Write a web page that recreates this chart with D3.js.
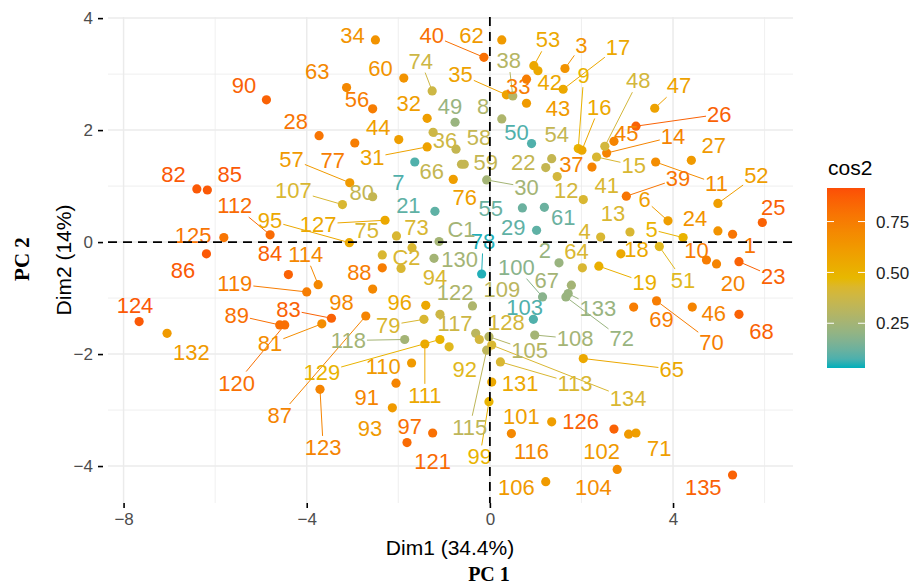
<!DOCTYPE html>
<html>
<head>
<meta charset="utf-8">
<script src="https://d3js.org/d3.v7.min.js"></script>
<style>
  body { margin: 0; background: #fff; }
  svg { display: block; font-family: "Liberation Sans", Arial, sans-serif; }
</style>
</head>
<body>
<svg></svg>
<script>
// individuals on the first two PCA dimensions, coloured by cos2

const ids = [
  "1","2","3","4","5","6","7","8","9","10","11","12","13","14","15","16","17","18","19","20",
  "21","22","23","24","25","26","27","28","29","30","31","32","33","34","35","36","37","38","39","40",
  "41","42","43","44","45","46","47","48","49","50","51","52","53","54","55","56","57","58","59","60",
  "61","62","63","64","65","66","67","68","69","70","71","72","73","74","75","76","77","78","79","80",
  "81","82","83","84","85","86","87","88","89","90","91","92","93","94","95","96","97","98","99","100",
  "101","102","103","104","105","106","107","108","109","110","111","112","113","114","115","116","117","118","119","120",
  "121","122","123","124","125","126","127","128","129","130","131","132","133","134","135","C1","C2"]

const dim1 = [
  5.30, 1.51, 1.64, 2.42, 4.22, 3.89, -1.64, 0.26, 1.93, 4.73, 3.62, 1.47, 3.06, 2.55, 2.33, 2.01, 1.60, 2.86, 2.38, 4.95,
  -1.20, 1.22, 5.44, 4.98, 5.95, 3.19, 4.40, -3.73, 1.02, -0.07, -1.37, -1.37, 0.80, -2.50, 0.36, -1.24, 2.23, 0.50, 2.98, -0.13,
  2.04, 1.05, 0.80, -1.99, 2.71, 4.42, 3.60, 2.51, -0.76, 0.91, 3.70, 4.98, 0.96, 1.35, 0.71, -2.56, -3.06, -0.74, -0.56, -1.88,
  1.19, 0.26, -3.13, 2.02, 2.04, -0.62, 1.78, 5.44, 3.14, 3.64, 3.19, 1.66, -1.70, -1.26, -2.04, -0.80, -2.95, -0.18, -1.44, -2.56,
  -3.67, -6.40, -3.46, -4.40, -6.17, -6.19, -2.71, -2.35, -4.59, -4.88, -2.05, -0.89, -2.13, -1.94, -3.07, -1.40, -1.25, -2.56, -0.02, 1.15,
  1.35, 3.03, 0.95, 2.78, -0.02, 1.22, -3.22, 0.98, -0.31, -1.71, -1.42, -4.80, 0.23, -3.75, -0.07, 0.47, -1.09, -1.86, -4.00, -4.48,
  -1.81, -0.38, -3.71, -7.66, -5.81, 2.71, -2.29, -0.23, -1.09, -1.22, 0.04, -7.05, 1.71, 0.04, 5.30, -1.11, -2.35]

const dim2 = [
  0.14, -0.37, 3.10, 0.09, 0.08, 0.38, 1.43, 2.20, 1.67, -0.32, 1.43, 1.17, 0.18, 1.59, 1.52, 1.64, 2.73, -0.21, -0.43, -0.39,
  0.55, 1.33, -0.35, 0.20, 0.35, 2.07, 1.46, 1.90, 0.21, 1.11, 1.70, 2.21, 2.91, 3.61, 2.63, 1.96, 1.34, 2.61, 0.82, 3.30,
  0.76, 3.06, 2.48, 1.83, 1.80, -1.16, 2.39, 1.71, 2.14, 1.76, -0.08, 0.69, 3.15, 1.49, 0.61, 2.38, 1.06, 1.66, 1.39, 2.93,
  0.62, 3.61, 2.76, -0.46, -2.08, 1.39, -0.77, -1.29, -1.16, -1.05, -3.41, -0.98, -0.10, 2.70, 0.11, 1.12, 1.77, -0.57, -1.38, 0.81,
  -1.46, 0.95, -1.36, -0.58, 0.93, -0.21, -1.32, -0.46, -1.48, 2.54, -2.52, -1.87, -2.96, -0.47, -0.01, -1.13, -3.41, -0.84, -2.85, -0.98,
  -3.21, -3.43, -1.38, -4.06, -1.69, -4.28, 0.67, -1.66, -1.63, -2.16, -1.82, 0.13, -2.14, -0.76, -1.93, -3.42, -1.29, -1.74, -0.89, -1.48,
  -3.58, -1.14, -2.63, -1.42, 0.08, -3.34, 0.39, -1.74, -1.74, -0.29, -2.50, -1.63, -0.92, -1.84, -4.16, 0.01, -0.23]

const cos2 = [
  0.78, 0.22, 0.65, 0.42, 0.50, 0.60, 0.08, 0.28, 0.50, 0.75, 0.68, 0.40, 0.42, 0.72, 0.42, 0.55, 0.55, 0.55, 0.52, 0.72,
  0.10, 0.35, 0.85, 0.65, 0.85, 0.85, 0.62, 0.78, 0.10, 0.25, 0.58, 0.60, 0.75, 0.65, 0.58, 0.38, 0.72, 0.30, 0.78, 0.80,
  0.42, 0.55, 0.62, 0.60, 0.72, 0.72, 0.58, 0.40, 0.22, 0.08, 0.45, 0.60, 0.55, 0.35, 0.12, 0.75, 0.62, 0.35, 0.35, 0.65,
  0.12, 0.62, 0.70, 0.42, 0.55, 0.35, 0.25, 0.85, 0.75, 0.75, 0.60, 0.22, 0.42, 0.38, 0.42, 0.60, 0.75, 0.04, 0.42, 0.35,
  0.68, 0.88, 0.85, 0.85, 0.88, 0.88, 0.72, 0.75, 0.80, 0.85, 0.72, 0.45, 0.62, 0.42, 0.55, 0.55, 0.80, 0.70, 0.50, 0.18,
  0.60, 0.62, 0.08, 0.68, 0.30, 0.62, 0.42, 0.25, 0.32, 0.62, 0.55, 0.82, 0.42, 0.70, 0.33, 0.70, 0.38, 0.25, 0.75, 0.80,
  0.82, 0.28, 0.72, 0.88, 0.78, 0.85, 0.55, 0.40, 0.50, 0.25, 0.55, 0.62, 0.22, 0.42, 0.85, 0.25, 0.42]

// where the repelled labels sit, in data units
const labelDim1 = [
  5.68, 1.20, 2.00, 2.07, 3.53, 3.38, -2.00, -0.15, 2.05, 4.51, 4.95, 1.67, 2.69, 4.00, 3.14, 2.39, 2.80, 3.20, 3.38, 5.31,
  -1.78, 0.73, 6.19, 4.48, 6.19, 5.01, 4.89, -4.24, 0.51, 0.80, -2.57, -1.77, 0.62, -3.00, -0.64, -0.98, 1.78, 0.41, 4.11, -1.27,
  2.55, 1.31, 1.49, -2.44, 2.98, 4.89, 4.13, 3.24, -0.87, 0.58, 4.22, 5.82, 1.27, 1.46, 0.02, -2.90, -4.33, -0.24, -0.09, -2.39,
  1.60, -0.40, -3.77, 1.89, 3.97, -1.27, 1.24, 5.93, 3.75, 4.84, 3.70, 2.88, -1.60, -1.51, -2.69, -0.55, -3.43, -0.15, -2.22, -2.80,
  -4.80, -6.91, -4.40, -4.80, -5.68, -6.70, -4.59, -2.85, -5.53, -5.37, -2.69, -0.55, -2.62, -1.20, -4.80, -1.97, -1.75, -3.24, -0.22, 0.58,
  0.69, 2.44, 0.76, 2.26, 0.87, 0.58, -4.29, 1.86, 0.26, -2.33, -1.42, -5.57, 1.86, -4.02, -0.44, 0.91, -0.76, -3.09, -5.57, -5.53,
  -1.25, -0.76, -3.64, -7.75, -6.48, 1.98, -3.75, 0.36, -3.67, -0.66, 0.66, -6.52, 2.36, 3.02, 4.66, -0.62, -1.82]

const labelDim2 = [
  -0.05, -0.14, 3.52, 0.20, 0.23, 0.76, 1.08, 2.43, 2.98, -0.14, 1.05, 0.93, 0.51, 1.89, 1.38, 2.42, 3.49, -0.13, -0.71, -0.73,
  0.66, 1.43, -0.61, 0.42, 0.63, 2.29, 1.73, 2.17, 0.27, 0.99, 1.52, 2.49, 2.79, 3.70, 3.00, 1.82, 1.39, 3.25, 1.14, 3.70,
  1.02, 2.86, 2.39, 2.06, 1.94, -1.26, 2.80, 2.89, 2.43, 1.97, -0.68, 1.20, 3.62, 1.93, 0.60, 2.55, 1.49, 1.88, 1.43, 3.10,
  0.45, 3.70, 3.05, -0.16, -2.26, 1.26, -0.68, -1.59, -1.38, -1.78, -3.68, -1.72, 0.27, 3.24, 0.21, 0.81, 1.46, 0.01, -1.48, 0.90,
  -1.81, 1.21, -1.20, -0.20, 1.21, -0.50, -3.09, -0.53, -1.30, 2.80, -2.77, -2.26, -3.33, -0.62, 0.39, -1.07, -3.29, -1.07, -3.83, -0.44,
  -3.11, -3.74, -1.16, -4.37, -1.93, -4.37, 0.93, -1.72, -0.84, -2.21, -2.73, 0.66, -2.52, -0.21, -3.30, -3.74, -1.45, -1.75, -0.74, -2.51,
  -3.92, -0.89, -3.66, -1.13, 0.13, -3.19, 0.33, -1.42, -2.32, -0.31, -2.52, -1.96, -1.18, -2.79, -4.37, 0.24, -0.27]

// labels that are joined to their point by a segment
const withSegment = ["57","40","74","35","38","31","53","3","17","9","16","48","47","26","14","15","39","11",
  "52","6","5","51","19","23","70","133","72","100","65","113","134","105","108","30","107","95","127","112",
  "114","119","89","83","81","120","87","129","123","118","79","111","115","99","78"]

const xTicks = [-8, -4, 0, 4]
const yTicks = [-4, -2, 0, 2, 4]
const legendTicks = [0.25, 0.50, 0.75]

const data = ids.map((id, i) => ({
  id: id, x: dim1[i], y: dim2[i], cos2: cos2[i], lx: labelDim1[i], ly: labelDim2[i]
}))

const svg = d3.select("svg")
    .attr("width", 913)
    .attr("height", 586)

const x = d3.scaleLinear().domain([-8.34, 6.62]).range([108, 793])
const y = d3.scaleLinear().domain([-4.66, 4.02]).range([503, 17])

const color = d3.scaleLinear()
    .domain([0.03, 0.4725, 0.915])
    .range(["#00AFBB", "#E7B800", "#FC4E07"])
    .interpolate(d3.interpolateLab)

// grid
const grid = svg.append("g")
const minorX = [-6, -2, 2, 6]
const minorY = [-3, -1, 1, 3]

grid.selectAll("line.minx").data(minorX).enter().append("line")
    .attr("x1", d => x(d)).attr("x2", d => x(d)).attr("y1", 17).attr("y2", 503)
    .attr("stroke", "#EBEBEB").attr("stroke-width", 0.8)
grid.selectAll("line.miny").data(minorY).enter().append("line")
    .attr("y1", d => y(d)).attr("y2", d => y(d)).attr("x1", 108).attr("x2", 793)
    .attr("stroke", "#EBEBEB").attr("stroke-width", 0.8)
grid.selectAll("line.majx").data(xTicks).enter().append("line")
    .attr("x1", d => x(d)).attr("x2", d => x(d)).attr("y1", 17).attr("y2", 503)
    .attr("stroke", "#EBEBEB").attr("stroke-width", 1.5)
grid.selectAll("line.majy").data(yTicks).enter().append("line")
    .attr("y1", d => y(d)).attr("y2", d => y(d)).attr("x1", 108).attr("x2", 793)
    .attr("stroke", "#EBEBEB").attr("stroke-width", 1.5)

// axes
const xAxis = d3.axisBottom(x).tickValues(xTicks).tickSize(5).tickPadding(5)
    .tickFormat(d => d < 0 ? "\u2212" + Math.abs(d) : d)
const yAxis = d3.axisLeft(y).tickValues(yTicks).tickSize(5).tickPadding(5)
    .tickFormat(d => d < 0 ? "\u2212" + Math.abs(d) : d)

const gx = svg.append("g").attr("transform", "translate(0,503)").call(xAxis)
const gy = svg.append("g").attr("transform", "translate(103,0)").call(yAxis)
;[gx, gy].forEach(g => {
  g.select(".domain").remove()
  g.selectAll(".tick line").attr("stroke", "#000").attr("stroke-width", 1.6)
  g.selectAll(".tick text").attr("fill", "#4D4D4D").style("font-size", "17px")
      .style("font-family", "'Liberation Sans', Arial, sans-serif")
})

// points
svg.append("g").selectAll("circle").data(data).enter().append("circle")
    .attr("cx", d => x(d.x))
    .attr("cy", d => y(d.y))
    .attr("r", 4.6)
    .attr("fill", d => color(d.cos2))

// labels and their segments
const segs = svg.append("g")
const labels = svg.append("g").selectAll("text").data(data).enter().append("text")
    .attr("x", d => x(d.lx))
    .attr("y", d => y(d.ly))
    .attr("text-anchor", "middle")
    .attr("dy", "0.36em")
    .attr("fill", d => color(d.cos2))
    .style("font-size", "22px")
    .text(d => d.id)

labels.each(function(d) {
  if (withSegment.indexOf(d.id) < 0) return
  const b = this.getBBox()
  const cx = b.x + b.width / 2, cy = b.y + b.height / 2
  const px = x(d.x), py = y(d.y)
  const dx = px - cx, dy = py - cy
  const hw = b.width / 2 + 1, hh = b.height / 2 - 1
  const t = Math.min(Math.abs(dx) > 0 ? hw / Math.abs(dx) : Infinity,
                     Math.abs(dy) > 0 ? hh / Math.abs(dy) : Infinity)
  if (t >= 1) return
  segs.append("line")
      .attr("x1", px).attr("y1", py)
      .attr("x2", cx + dx * t).attr("y2", cy + dy * t)
      .attr("stroke", color(d.cos2))
      .attr("stroke-width", 1)
})

// dashed reference axes
svg.append("line")
    .attr("x1", 108).attr("x2", 793).attr("y1", y(0)).attr("y2", y(0))
    .attr("stroke", "#000").attr("stroke-width", 1.8).attr("stroke-dasharray", "9,6")
svg.append("line")
    .attr("x1", x(0)).attr("x2", x(0)).attr("y1", 17).attr("y2", 503)
    .attr("stroke", "#000").attr("stroke-width", 1.8).attr("stroke-dasharray", "9,6")

// axis titles
svg.append("text")
    .attr("x", 450).attr("y", 555)
    .attr("text-anchor", "middle")
    .style("font-size", "21px")
    .text("Dim1 (34.4%)")
svg.append("text")
    .attr("transform", "translate(71,260) rotate(-90)")
    .attr("text-anchor", "middle")
    .style("font-size", "21px")
    .text("Dim2 (14%)")
svg.append("text")
    .attr("x", 489).attr("y", 581)
    .attr("text-anchor", "middle")
    .style("font-family", "'Liberation Serif', 'Times New Roman', serif")
    .style("font-weight", "bold")
    .style("font-size", "20px")
    .text("PC 1")
svg.append("text")
    .attr("transform", "translate(29,259) rotate(-90)")
    .attr("text-anchor", "middle")
    .style("font-family", "'Liberation Serif', 'Times New Roman', serif")
    .style("font-weight", "bold")
    .style("font-size", "21px")
    .text("PC 2")

// colour bar legend
const ly = d3.scaleLinear().domain([0.03, 0.915]).range([368, 188])
const grad = svg.append("defs").append("linearGradient")
    .attr("id", "cosgrad").attr("x1", 0).attr("x2", 0).attr("y1", 1).attr("y2", 0)
d3.range(0, 1.0001, 0.05).forEach(t => {
  grad.append("stop")
      .attr("offset", t)
      .attr("stop-color", color(0.03 + t * (0.915 - 0.03)))
})
svg.append("rect")
    .attr("x", 827).attr("y", 188).attr("width", 38).attr("height", 180)
    .attr("fill", "url(#cosgrad)")

const leg = svg.append("g")
leg.selectAll("line.l").data(legendTicks).enter().append("line")
    .attr("x1", 827).attr("x2", 834).attr("y1", d => ly(d)).attr("y2", d => ly(d))
    .attr("stroke", "#fff").attr("stroke-width", 1)
leg.selectAll("line.r").data(legendTicks).enter().append("line")
    .attr("x1", 858).attr("x2", 865).attr("y1", d => ly(d)).attr("y2", d => ly(d))
    .attr("stroke", "#fff").attr("stroke-width", 1)
leg.selectAll("text").data(legendTicks).enter().append("text")
    .attr("x", 876).attr("y", d => ly(d)).attr("dy", "0.36em")
    .attr("fill", "#222")
    .style("font-size", "17px")
    .text(d => d3.format(".2f")(d))

svg.append("text")
    .attr("x", 828).attr("y", 175)
    .style("font-size", "21px")
    .text("cos2")
</script>
</body>
</html>
